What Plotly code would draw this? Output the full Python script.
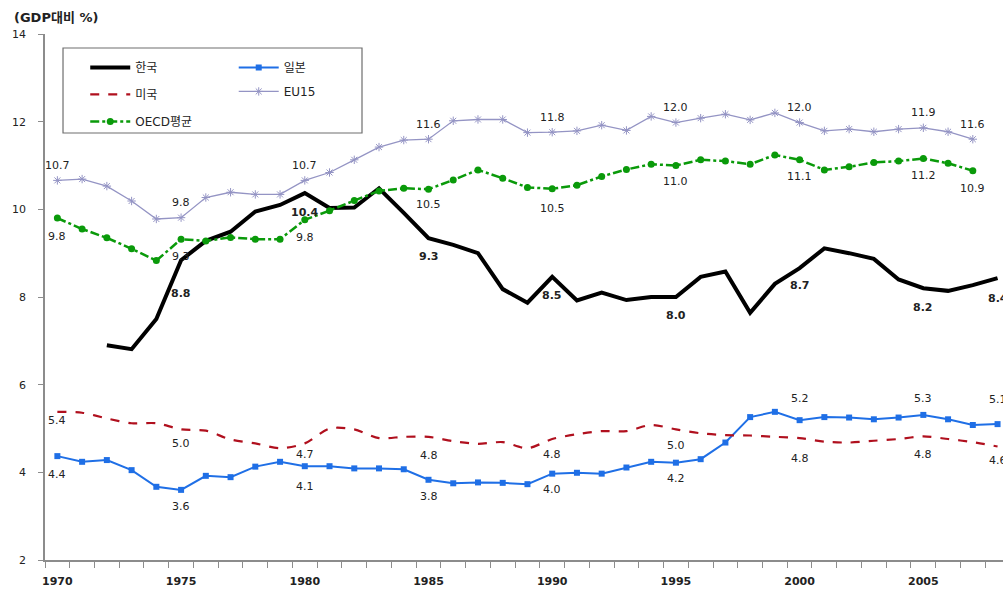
import plotly.graph_objects as go

# Public social expenditure, % of GDP, 1970-2008
years = list(range(1970, 2009))

korea = [None, None, 6.9, 6.81, 7.5, 8.84, 9.28, 9.49, 9.95, 10.1,
         10.37, 10.03, 10.04, 10.48, 9.92, 9.34, 9.19, 9.0, 8.18, 7.87,
         8.46, 7.92, 8.1, 7.93, 8.0, 8.0, 8.46, 8.58, 7.64, 8.3,
         8.66, 9.11, 9.0, 8.87, 8.4, 8.2, 8.14, 8.27, 8.43]

japan = [4.37, 4.24, 4.28, 4.05, 3.67, 3.6, 3.92, 3.89, 4.13, 4.24,
         4.14, 4.14, 4.09, 4.09, 4.07, 3.83, 3.75, 3.77, 3.76, 3.73,
         3.97, 3.99, 3.97, 4.11, 4.24, 4.22, 4.3, 4.68, 5.26, 5.38,
         5.19, 5.26, 5.25, 5.21, 5.25, 5.31, 5.21, 5.08, 5.1]

usa = [5.38, 5.36, 5.23, 5.12, 5.12, 4.98, 4.95, 4.75, 4.66, 4.55,
       4.66, 5.0, 4.98, 4.78, 4.81, 4.81, 4.71, 4.65, 4.69, 4.55,
       4.76, 4.87, 4.94, 4.94, 5.08, 4.98, 4.89, 4.85, 4.84, 4.81,
       4.78, 4.7, 4.68, 4.72, 4.76, 4.82, 4.76, 4.69, 4.59]

eu15 = [10.66, 10.69, 10.53, 10.19, 9.78, 9.81, 10.27, 10.39, 10.34, 10.34,
        10.66, 10.84, 11.13, 11.42, 11.58, 11.6, 12.02, 12.05, 12.05, 11.75,
        11.76, 11.79, 11.92, 11.8, 12.12, 11.98, 12.08, 12.17, 12.04, 12.2,
        11.98, 11.79, 11.83, 11.77, 11.83, 11.86, 11.77, 11.6, None]

oecd = [9.8, 9.55, 9.35, 9.1, 8.83, 9.32, 9.28, 9.36, 9.32, 9.32,
        9.76, 9.97, 10.2, 10.42, 10.48, 10.46, 10.67, 10.9, 10.71, 10.5,
        10.47, 10.55, 10.75, 10.91, 11.03, 11.0, 11.13, 11.1, 11.03, 11.24,
        11.13, 10.9, 10.97, 11.07, 11.1, 11.16, 11.05, 10.88, None]

# years whose values are printed next to each series
label_years_korea = [1975, 1980, 1985, 1990, 1995, 2000, 2005, 2008]
label_years_japan = [1970, 1975, 1980, 1985, 1990, 1995, 2000, 2005, 2008]
label_years_usa = [1970, 1975, 1980, 1985, 1990, 1995, 2000, 2005, 2008]
label_years_eu15 = [1970, 1975, 1980, 1985, 1990, 1995, 2000, 2005, 2007]
label_years_oecd = [1970, 1975, 1980, 1985, 1990, 1995, 2000, 2005, 2007]

x_tick_years = [1970, 1975, 1980, 1985, 1990, 1995, 2000, 2005]

# vertical pixel offsets of the value labels (positive = above the point)
shift_korea = [-33, -19, -18, -19, -18, -17, -19, -20]
shift_japan = [-18, -17, -20, -17, -16, -16, 22, 16, 25]
shift_usa = [-9, -14, -11, -19, -15, -16, -20, -18, -14]
shift_eu15 = [15] * 9
shift_oecd = [-18, -17, -18, -15, -20, -16, -17, -17, -18]

FONT = "DejaVu Sans, Noto Sans CJK KR, sans-serif"
AXIS_GRAY = "#8c8c8c"

C_KOREA = "#000000"
C_JAPAN = "#1f6fe6"
C_USA = "#b0101e"
C_EU = "#9494c4"
C_OECD = "#0a9a0a"

fig = go.Figure()

fig.add_trace(go.Scatter(
    x=years, y=korea, name="한국", mode="lines",
    line=dict(color=C_KOREA, width=4),
    legend="legend", legendgroup="kr"))
fig.add_trace(go.Scatter(
    x=years, y=japan, name="일본", mode="lines+markers",
    line=dict(color=C_JAPAN, width=2),
    marker=dict(symbol="square", size=6, color=C_JAPAN),
    legend="legend2", legendgroup="jp"))
fig.add_trace(go.Scatter(
    x=years, y=usa, name="미국", mode="lines",
    line=dict(color=C_USA, width=2.2, dash="dash", shape="spline", smoothing=0.8),
    legend="legend", legendgroup="us"))
fig.add_trace(go.Scatter(
    x=years, y=eu15, name="EU15", mode="lines+markers",
    line=dict(color=C_EU, width=1.3),
    marker=dict(symbol="asterisk-open", size=7, line=dict(color=C_EU, width=1)),
    legend="legend2", legendgroup="eu"))
fig.add_trace(go.Scatter(
    x=years, y=oecd, name="OECD평균", mode="lines+markers",
    line=dict(color=C_OECD, width=2.5, dash="dashdot"),
    marker=dict(symbol="circle", size=7, color=C_OECD),
    legend="legend", legendgroup="oecd"))


def add_labels(values, label_years, shifts, bold=False):
    for yr, dy in zip(label_years, shifts):
        v = values[years.index(yr)]
        txt = f"{v:.1f}"
        fig.add_annotation(
            x=yr, y=v, text=f"<b>{txt}</b>" if bold else txt,
            showarrow=False, yshift=dy, xanchor="center", yanchor="middle",
            font=dict(family=FONT, size=11, color="#222222"))


add_labels(eu15, label_years_eu15, shift_eu15)
add_labels(oecd, label_years_oecd, shift_oecd)
add_labels(korea, label_years_korea, shift_korea, bold=True)
add_labels(japan, label_years_japan, shift_japan)
add_labels(usa, label_years_usa, shift_usa)

# unit caption
fig.add_annotation(
    xref="paper", yref="paper", x=-0.034, y=1.032,
    xanchor="left", yanchor="middle", showarrow=False,
    text="<b>(GDP대비 %)</b>", font=dict(family=FONT, size=13, color="#222222"))

# frame around the two legend columns
fig.add_shape(
    type="rect", xref="paper", yref="paper",
    x0=0.0188, x1=0.3309, y0=0.8118, y1=0.9734,
    line=dict(color="#6e6e6e", width=1.2), fillcolor="white", layer="below")

fig.update_layout(
    width=1003, height=589,
    margin=dict(l=45, r=0, t=34, b=29),
    paper_bgcolor="white", plot_bgcolor="white",
    font=dict(family=FONT, size=12, color="#222222"),
    showlegend=True,
    legend=dict(
        x=0.042, y=0.964, xanchor="left", yanchor="top",
        bgcolor="rgba(0,0,0,0)", borderwidth=0,
        itemwidth=40, tracegroupgap=8,
        font=dict(family=FONT, size=12, color="#222222")),
    legend2=dict(
        x=0.197, y=0.964, xanchor="left", yanchor="top",
        bgcolor="rgba(0,0,0,0)", borderwidth=0,
        itemwidth=40, tracegroupgap=5,
        font=dict(family=FONT, size=12, color="#222222")),
    xaxis=dict(
        range=[1969.5, 2008.22], showgrid=False, zeroline=False,
        showline=True, linecolor=AXIS_GRAY, linewidth=1.5,
        tickmode="array", tickvals=x_tick_years,
        ticktext=[f"<b>{y}</b>" for y in x_tick_years],
        ticks="outside", ticklen=0, ticklabelstandoff=10,
        tickfont=dict(family=FONT, size=11, color="#222222"),
        minor=dict(tick0=1969.5, dtick=1, ticks="outside", ticklen=6,
                   tickcolor=AXIS_GRAY, tickwidth=1, showgrid=False)),
    yaxis=dict(
        range=[2, 14], dtick=2, showgrid=False, zeroline=False,
        showline=True, linecolor=AXIS_GRAY, linewidth=1.5,
        ticks="outside", ticklen=5, tickcolor=AXIS_GRAY, tickwidth=1,
        ticklabelstandoff=10,
        tickfont=dict(family=FONT, size=11, color="#222222")),
)

fig.write_html("out.html")
